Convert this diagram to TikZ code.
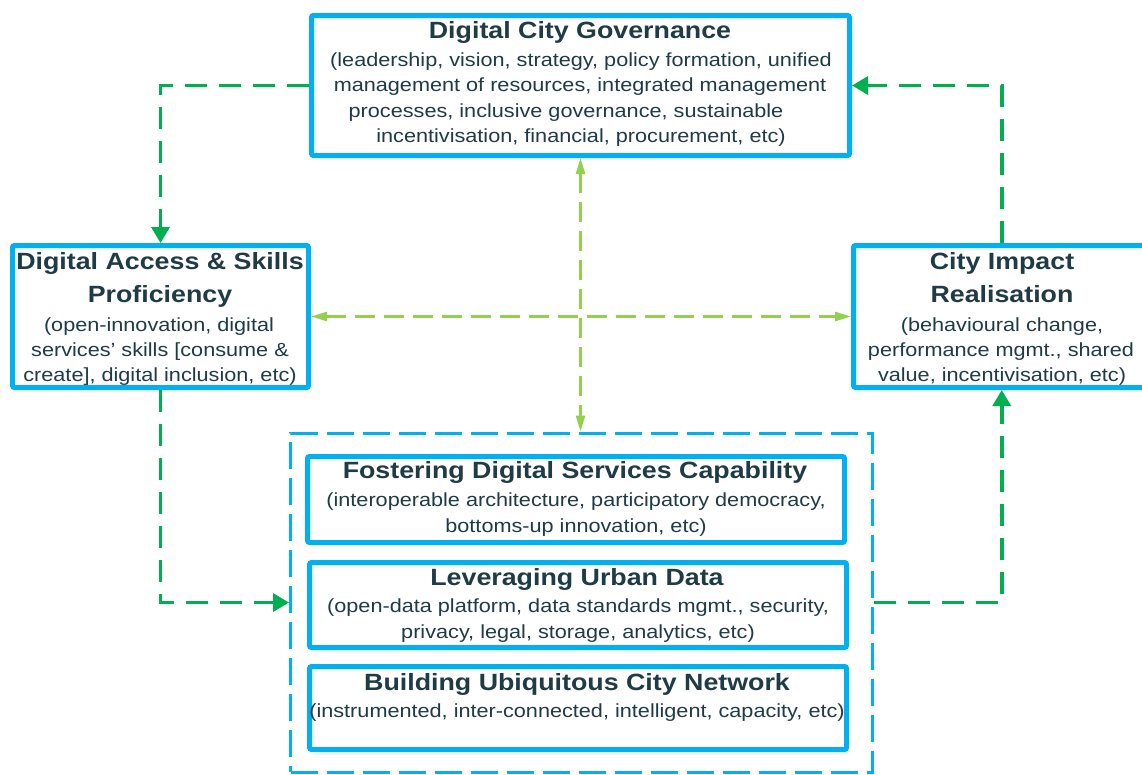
\documentclass[tikz,border=0pt]{standalone}
\usepackage{fontspec}
\setmainfont{Liberation Sans}[FakeStretch=1.14]
\usetikzlibrary{arrows.meta}
\definecolor{cblue}{HTML}{00B0F0}
\definecolor{cgreen}{HTML}{00B050}
\definecolor{clight}{HTML}{92D050}
\definecolor{ctext}{HTML}{1F3B45}
\begin{document}
\begin{tikzpicture}[x=1pt,y=-1pt,
  box/.style={draw=cblue, line width=5pt, rounded corners=2pt, inner sep=0pt},
  ttl/.style={text=ctext, inner sep=0pt, anchor=base, font=\fontsize{23.5}{28}\selectfont\bfseries},
  bdy/.style={text=ctext, inner sep=0pt, anchor=base, font=\fontsize{19}{25}\selectfont},
  gconn/.style={draw=cgreen, line width=3.5pt, dash pattern=on 22pt off 12pt, -{Triangle[length=16pt,width=18pt]}},
  lconn/.style={draw=clight, line width=2.5pt, dash pattern=on 20pt off 9pt, {Triangle[length=16pt,width=9pt]}-{Triangle[length=16pt,width=9pt]}},
  cont/.style={draw=cblue, line width=3pt, dash pattern=on 27pt off 9pt, inner sep=0pt}]
\useasboundingbox (0,0) rectangle (1142,774);
\fill[white] (0,0) rectangle (1142,774);
% boxes
\node[box, minimum width=538pt, minimum height=140pt] (gov) at (580.5,85.5) {};
\node[box, minimum width=296pt, minimum height=142pt] (acc) at (160.5,316.5) {};
\node[box, minimum width=296.5pt, minimum height=142pt] (imp) at (1001.75,316.5) {};
\node[cont, minimum width=582pt, minimum height=339pt] (con) at (581.5,602.5) {};
\node[box, minimum width=537pt, minimum height=86pt] (fos) at (576,499.5) {};
\node[box, minimum width=537pt, minimum height=85pt] (lev) at (578,605) {};
\node[box, minimum width=537pt, minimum height=83pt] (bui) at (578,708) {};
% governance text
\node[ttl] (g0) at (580,38) {Digital City Governance};
\node[bdy] (g1) at (581,66) {(leadership, vision, strategy, policy formation, unified};
\node[bdy] (g2) at (580,91.5) {management of resources, integrated management};
\node[bdy] (g3) at (566,117) {processes, inclusive governance, sustainable};
\node[bdy] (g4) at (581,142.5) {incentivisation, financial, procurement, etc)};
% access text
\node[ttl] (a0) at (160,269) {Digital Access \& Skills};
\node[ttl] (a1) at (160,302.5) {Proficiency};
\node[bdy] (a2) at (159,331) {(open-innovation, digital};
\node[bdy] (a3) at (160,356) {services' skills [consume \&};
\node[bdy] (a4) at (160,381.5) {create], digital inclusion, etc)};
% impact text
\node[ttl] (i0) at (1002,269) {City Impact};
\node[ttl] (i1) at (1002,302.5) {Realisation};
\node[bdy] (i2) at (1002,331) {(behavioural change,};
\node[bdy] (i3) at (1001,356) {performance mgmt., shared};
\node[bdy] (i4) at (1002,381.5) {value, incentivisation, etc)};
% fostering text
\node[ttl] (f0) at (575,478.5) {Fostering Digital Services Capability};
\node[bdy] (f1) at (576,506.5) {(interoperable architecture, participatory democracy,};
\node[bdy] (f2) at (576,532) {bottoms-up innovation, etc)};
% leveraging text
\node[ttl] (l0) at (577,585) {Leveraging Urban Data};
\node[bdy] (l1) at (578,612.5) {(open-data platform, data standards mgmt., security,};
\node[bdy] (l2) at (578,638) {privacy, legal, storage, analytics, etc)};
% building text
\node[ttl] (b0) at (577,690) {Building Ubiquitous City Network};
\node[bdy] (b1) at (577,717.5) {(instrumented, inter-connected, intelligent, capacity, etc)};
% connectors
\draw[gconn] (gov.west) -| (acc.north);
\draw[gconn] (acc.south) |- (con.west);
\draw[gconn] (con.east) -| (imp.south);
\draw[gconn] (imp.north) |- (gov.east);
\draw[lconn] (gov.south) -- (gov.south |- con.north);
\draw[lconn] (acc.east) -- (imp.west);
\end{tikzpicture}
\end{document}
